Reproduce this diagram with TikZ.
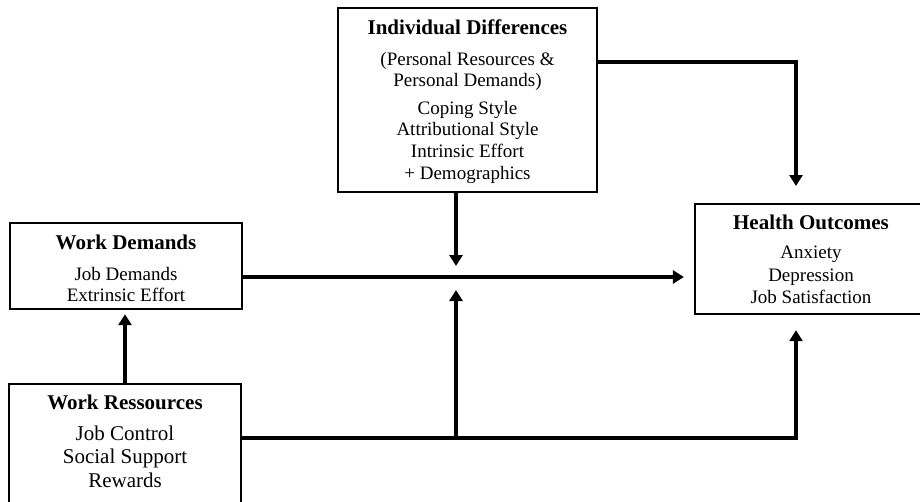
\documentclass[tikz,border=0pt]{standalone}
\usepackage{fontspec}
\setmainfont{Liberation Serif}
\usetikzlibrary{arrows.meta}
\tikzset{
  box/.style={draw, line width=2.2pt, inner sep=0pt, anchor=north},
  arr/.style={line width=3.4pt, -{Triangle[length=11pt,width=13pt]}},
}
\newcommand{\ttl}[1]{{\fontsize{21}{21}\selectfont\bfseries #1}}
\begin{document}
\begin{tikzpicture}[x=1pt,y=-1pt]
\useasboundingbox (0,0) rectangle (920,501);
\fill[white] (0,0) rectangle (920,501);
\clip (0,0) rectangle (920,501);

\node[box] (id) at (467.5,7) {\begin{minipage}[t][184pt][t]{259pt}\centering\fontsize{19}{21.7}\selectfont
\rule{0pt}{26pt}\ttl{Individual Differences}\\[9.3pt]
(Personal Resources \&\\
Personal Demands)\\[5.6pt]
Coping Style\\
Attributional Style\\
Intrinsic Effort\\
+ Demographics
\end{minipage}};

\node[box] (ho) at (811,203) {\begin{minipage}[t][110pt][t]{232pt}\centering\fontsize{19}{22.5}\selectfont
\rule{0pt}{25pt}\ttl{Health Outcomes}\\[7.2pt]
Anxiety\\
Depression\\
Job Satisfaction
\end{minipage}};

\node[box] (wd) at (126,222) {\begin{minipage}[t][86pt][t]{232pt}\centering\fontsize{19}{21.5}\selectfont
\rule{0pt}{26pt}\ttl{Work Demands}\\[9.5pt]
Job Demands\\
Extrinsic Effort
\end{minipage}};

\node[box] (wr) at (125,383) {\begin{minipage}[t][160pt][t]{232pt}\centering\fontsize{21}{23.5}\selectfont
\rule{0pt}{25pt}\ttl{Work Ressources}\\[7.5pt]
Job Control\\
Social Support\\
Rewards
\end{minipage}};

\coordinate (k1) at (796,62);
\coordinate (j) at (456,277);
\coordinate (b) at (796,438);
\coordinate (b2) at (456,438);

\draw[arr, shorten >=17pt] (id.east |- k1) -- (k1) -- (ho.north -| k1);
\draw[arr, shorten >=11pt] (id.south -| j) -- (j);
\draw[arr, shorten >=10pt] (wd.east |- j) -- (ho.west |- j);
\draw[arr, shorten >=13pt] (b2) -- (j);
\draw[arr, shorten >=15pt] (wr.east |- b) -- (b) -- (ho.south -| b);
\draw[arr, shorten >=4pt] (wr.north) -- (wr.north |- wd.south);
\end{tikzpicture}
\end{document}
